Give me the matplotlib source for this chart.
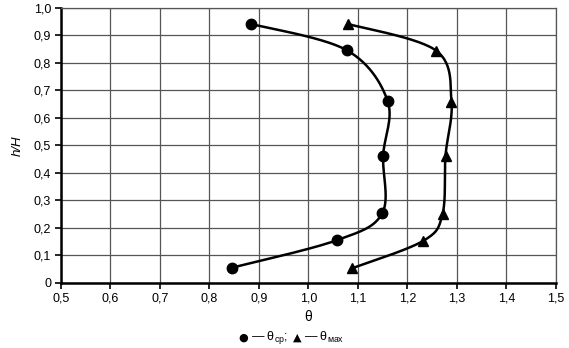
import numpy as np
import matplotlib
matplotlib.use('Agg')
import matplotlib.pyplot as plt

plt.rcParams['font.family'] = ['Liberation Sans', 'DejaVu Sans']
plt.rcParams['mathtext.fontset'] = 'custom'
plt.rcParams['mathtext.rm'] = 'Liberation Sans'
plt.rcParams['mathtext.it'] = 'Liberation Sans:italic'

# Data
h_cp = [0.055, 0.155, 0.253, 0.463, 0.662, 0.847, 0.942]
theta_cp = [0.845, 1.057, 1.149, 1.151, 1.160, 1.077, 0.884]

h_max = [0.053, 0.153, 0.251, 0.463, 0.659, 0.845, 0.942]
theta_max = [1.088, 1.232, 1.271, 1.277, 1.289, 1.258, 1.080]

x_ticks = [0.5, 0.6, 0.7, 0.8, 0.9, 1.0, 1.1, 1.2, 1.3, 1.4, 1.5]
y_ticks = [0, 0.1, 0.2, 0.3, 0.4, 0.5, 0.6, 0.7, 0.8, 0.9, 1.0]


def smooth(x, y, n=30):
    # Catmull-Rom curve through the points, like a spreadsheet "smoothed line"
    p = np.column_stack([x, y])
    p = np.vstack([p[0], p, p[-1]])
    out = []
    for i in range(1, len(p) - 2):
        p0, p1, p2, p3 = p[i - 1], p[i], p[i + 1], p[i + 2]
        t = np.linspace(0, 1, n)[:, None]
        c = 0.5 * ((2 * p1) + (-p0 + p2) * t + (2 * p0 - 5 * p1 + 4 * p2 - p3) * t ** 2
                   + (-p0 + 3 * p1 - 3 * p2 + p3) * t ** 3)
        out.append(c)
    c = np.vstack(out)
    return c[:, 0], c[:, 1]


fig = plt.figure(figsize=(5.69, 3.48), dpi=100)
ax = fig.add_axes([0.107, 0.187, 0.870, 0.790])

sx, sy = smooth(theta_cp, h_cp)
ax.plot(sx, sy, color='black', lw=1.8, zorder=3)
ax.plot(theta_cp, h_cp, 'o', color='black', ms=7.5, zorder=4)

sx, sy = smooth(theta_max, h_max)
ax.plot(sx, sy, color='black', lw=1.8, zorder=3)
ax.plot(theta_max, h_max, '^', color='black', ms=7.5, zorder=4)

ax.set_xlim(0.5, 1.5)
ax.set_ylim(0, 1.0)
ax.set_xticks(x_ticks)
ax.set_yticks(y_ticks)
ax.set_xticklabels([f'{v:.1f}'.replace('.', ',') for v in x_ticks])
ax.set_yticklabels(['0'] + [f'{v:.1f}'.replace('.', ',') for v in y_ticks[1:]])
ax.grid(True, color='#555555', lw=0.9)
ax.set_axisbelow(True)
ax.tick_params(direction='out', length=4, width=1.2, labelsize=9, pad=3)

for s in ['left', 'bottom']:
    ax.spines[s].set_linewidth(1.8)
    ax.spines[s].set_color('black')
for s in ['top', 'right']:
    ax.spines[s].set_linewidth(0.9)
    ax.spines[s].set_color('#555555')

ax.set_xlabel('θ', fontsize=10, labelpad=4)
ax.set_ylabel('h/H', fontsize=9.5, style='italic', labelpad=7)

ly = 0.030
fig.text(0.427, ly, '●', fontsize=8, ha='center', va='center', family=['DejaVu Sans'])
fig.text(0.441, ly, r'— θ$_{\mathrm{ср}}$;', fontsize=9, ha='left', va='center')
fig.text(0.522, ly, '▲', fontsize=8, ha='center', va='center', family=['DejaVu Sans'])
fig.text(0.534, ly, r'— θ$_{\mathrm{мах}}$', fontsize=9, ha='left', va='center')

fig.savefig('out.png', dpi=100)
